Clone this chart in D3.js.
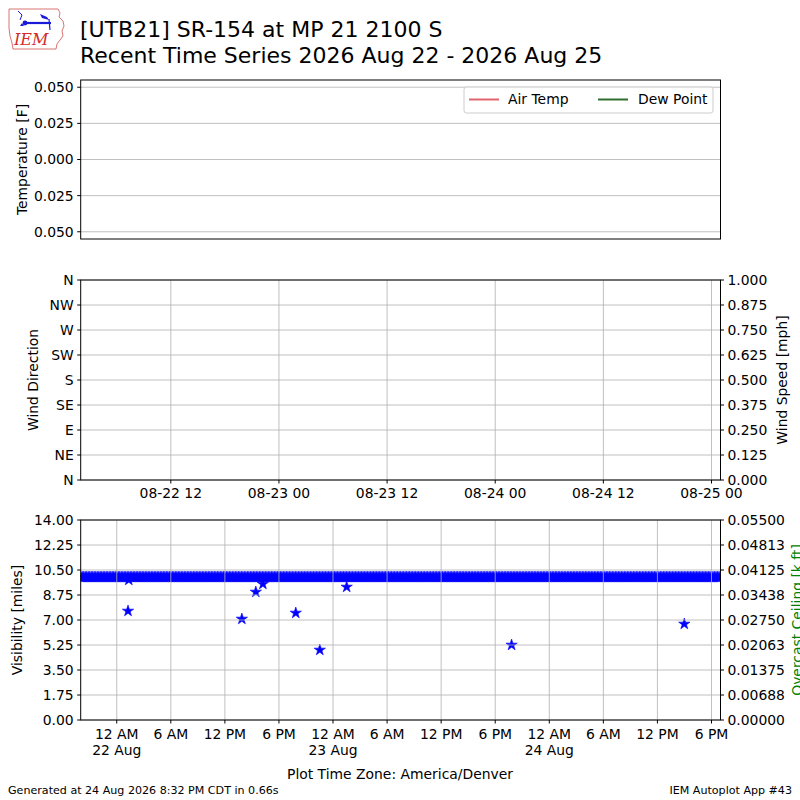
<!DOCTYPE html>
<html><head><meta charset="utf-8">
<script src="https://cdn.jsdelivr.net/npm/d3@7"></script>
<style>
body{margin:0;background:#fff}
text{font-family:"DejaVu Sans",sans-serif;fill:#000}
</style>
</head><body>
<svg id="c" width="800" height="800"></svg>
<script>
// ---------------- data ----------------
const titleLines = ["[UTB21] SR-154 at MP 21 2100 S", "Recent Time Series 2026 Aug 22 - 2026 Aug 25"];
const timeStartLocal = "2026-08-21 20:00";   // America/Denver wall time
const timeEndLocal   = "2026-08-24 19:00";
const utcOffsetHours = 6;                      // MDT = UTC-6

const tempTicks = [0.05, 0.025, 0, -0.025, -0.05];
const tempTickLabels = ["0.050", "0.025", "0.000", "0.025", "0.050"];
const tempDomain = [-0.055, 0.055];
const legendNames = ["Air Temp", "Dew Point"];
const legendColors = ["#e0646c", "#2e6e2e"];

const windDirTicks = [0, 45, 90, 135, 180, 225, 270, 315, 360];
const windDirLabels = ["N", "NE", "E", "SE", "S", "SW", "W", "NW", "N"];
const windSpeedTicks = [0, 0.125, 0.25, 0.375, 0.5, 0.625, 0.75, 0.875, 1.0];
const windSpeedLabels = ["0.000","0.125","0.250","0.375","0.500","0.625","0.750","0.875","1.000"];

const visTicks = [0, 1.75, 3.5, 5.25, 7, 8.75, 10.5, 12.25, 14];
const visTickLabels = ["0.00","1.75","3.50","5.25","7.00","8.75","10.50","12.25","14.00"];
const ceilTicks = [0, 0.006875, 0.01375, 0.020625, 0.0275, 0.034375, 0.04125, 0.048125, 0.055];
const ceilTickLabels = ["0.00000","0.00688","0.01375","0.02063","0.02750","0.03438","0.04125","0.04813","0.05500"];

// routine 10-mile visibility reports (constant run)
const visRoutine = {start: "2026-08-21 20:00", end: "2026-08-24 19:00", everyMinutes: 10, miles: 10};
// reduced-visibility reports
const visLowTimes  = ["2026-08-22 01:15","2026-08-22 01:20","2026-08-22 13:53","2026-08-22 15:26","2026-08-22 16:13","2026-08-22 19:52","2026-08-22 22:32","2026-08-23 01:31","2026-08-23 19:49","2026-08-24 14:59"];
const visLowMiles  = [7.63, 9.8, 7.07, 8.96, 9.52, 7.49, 4.9, 9.31, 5.25, 6.72];

// ---------------- drawing ----------------
const svg = d3.select("#c");
svg.append("rect").attr("width", 800).attr("height", 800).attr("fill", "#fff");
const parse = d3.utcParse("%Y-%m-%d %H:%M");
const L = 80.7, R = 720.5;
const FS = 13.9;
const gridColor = "#b0b0b0";

const xLocal = d3.scaleUtc().domain([parse(timeStartLocal), parse(timeEndLocal)]).range([L, R]);
const xUtc = d3.scaleUtc().domain([d3.utcHour.offset(parse(timeStartLocal), utcOffsetHours), d3.utcHour.offset(parse(timeEndLocal), utcOffsetHours)]).range([L, R]);

// logo
const logo = svg.append("g");
logo.append("path").attr("d", "M9,9 L58,9 L60,13 L59,17 L63,21 L64,26 L62,31 L63,36 L60,40 L57,44 L56,49 L13,49 L12,43 L10,36 L9,28 Z")
  .attr("fill", "none").attr("stroke", "#d05050").attr("stroke-width", 0.8);
logo.append("path").attr("d", "M26,23 L51,23").attr("stroke", "#1a1ad8").attr("stroke-width", 2.2);
logo.append("circle").attr("cx", 25).attr("cy", 23).attr("r", 2.4).attr("fill", "#1a1ad8");
logo.append("path").attr("d", "M40,14 L47,17 L49,20 L42,18 Z").attr("fill", "#1a1ad8");
logo.append("path").attr("d", "M49,19 L50,30").attr("stroke", "#1a1ad8").attr("stroke-width", 1.2);
logo.append("path").attr("d", "M18,11 L22,15 L20,20").attr("stroke", "#1a1ad8").attr("stroke-width", 1).attr("fill","none");
logo.append("path").attr("d", "M20,26 L22,23 L24,26 Z").attr("fill", "#1a1ad8");
logo.append("text").attr("x", 14).attr("y", 45).text("IEM")
  .style("font-family", "'DejaVu Serif',serif").style("font-style", "italic").style("font-size", "16px").style("fill", "#d42a2a");

// title
titleLines.forEach((t, i) => svg.append("text").attr("x", 80).attr("y", 37 + i * 26).style("font-size", "22px").text(t));

function spines(g, top, bottom) {
  g.append("rect").attr("x", L).attr("y", top).attr("width", R - L).attr("height", bottom - top)
    .attr("fill", "none").attr("stroke", "#000").attr("stroke-width", 1);
}
function leftAxis(g, y, ticks, labels) {
  ticks.forEach((t, i) => {
    g.append("line").attr("x1", L - 3.5).attr("x2", L).attr("y1", y(t)).attr("y2", y(t)).attr("stroke", "#000");
    g.append("text").attr("x", L - 7).attr("y", y(t)).attr("dy", "0.35em").attr("text-anchor", "end").style("font-size", FS + "px").text(labels[i]);
  });
}
function rightAxis(g, y, ticks, labels) {
  ticks.forEach((t, i) => {
    g.append("line").attr("x1", R).attr("x2", R + 3.5).attr("y1", y(t)).attr("y2", y(t)).attr("stroke", "#000");
    g.append("text").attr("x", R + 7).attr("y", y(t)).attr("dy", "0.35em").style("font-size", FS + "px").text(labels[i]);
  });
}
function hGrid(g, y, ticks) {
  ticks.forEach(t => g.append("line").attr("x1", L).attr("x2", R).attr("y1", y(t)).attr("y2", y(t)).attr("stroke", gridColor).attr("stroke-width", 0.8));
}
function vGrid(g, x, ticks, top, bottom) {
  ticks.forEach(t => g.append("line").attr("x1", x(t)).attr("x2", x(t)).attr("y1", top).attr("y2", bottom).attr("stroke", gridColor).attr("stroke-width", 0.8));
}
function yLabel(x, yc, text, color) {
  svg.append("text").attr("transform", `translate(${x},${yc}) rotate(-90)`).attr("text-anchor", "middle")
    .attr("dy", "0.35em").style("font-size", FS + "px").style("fill", color || "#000").text(text);
}

// ---- panel 1: temperature ----
const p1Top = 80, p1Bot = 239;
const yTemp = d3.scaleLinear().domain(tempDomain).range([p1Bot, p1Top]);
const g1 = svg.append("g");
hGrid(g1, yTemp, tempTicks);
leftAxis(g1, yTemp, tempTicks, tempTickLabels);
spines(g1, p1Top, p1Bot);
yLabel(22, (p1Top + p1Bot) / 2, "Temperature [F]");
// legend
const lg = g1.append("g");
lg.append("rect").attr("x", 464).attr("y", 87).attr("width", 249).attr("height", 26).attr("rx", 2.5)
  .attr("fill", "#fff").attr("fill-opacity", 0.8).attr("stroke", "#cccccc");
[[469, 508], [598, 638]].forEach((p, i) => {
  lg.append("line").attr("x1", p[0]).attr("x2", p[0] + 30).attr("y1", 99.5).attr("y2", 99.5).attr("stroke", legendColors[i]).attr("stroke-width", 2);
  lg.append("text").attr("x", p[1]).attr("y", 99.5).attr("dy", "0.35em").style("font-size", FS + "px").text(legendNames[i]);
});

// ---- panel 2: wind ----
const p2Top = 280, p2Bot = 480;
const yDir = d3.scaleLinear().domain([0, 360]).range([p2Bot, p2Top]);
const ySpd = d3.scaleLinear().domain([0, 1]).range([p2Bot, p2Top]);
const g2 = svg.append("g");
const utcTicks = xUtc.ticks(d3.utcHour.every(12));
hGrid(g2, yDir, windDirTicks);
vGrid(g2, xUtc, utcTicks, p2Top, p2Bot);
leftAxis(g2, yDir, windDirTicks, windDirLabels);
rightAxis(g2, ySpd, windSpeedTicks, windSpeedLabels);
const fmtUtc = d3.utcFormat("%m-%d %H");
utcTicks.forEach(t => {
  g2.append("line").attr("x1", xUtc(t)).attr("x2", xUtc(t)).attr("y1", p2Bot).attr("y2", p2Bot + 3.5).attr("stroke", "#000");
  g2.append("text").attr("x", xUtc(t)).attr("y", p2Bot + 7).attr("dy", "0.76em").attr("text-anchor", "middle").style("font-size", FS + "px").text(fmtUtc(t));
});
spines(g2, p2Top, p2Bot);
yLabel(33, (p2Top + p2Bot) / 2, "Wind Direction");
yLabel(782, (p2Top + p2Bot) / 2, "Wind Speed [mph]");

// ---- panel 3: visibility ----
const p3Top = 520, p3Bot = 720;
const yVis = d3.scaleLinear().domain([0, 14]).range([p3Bot, p3Top]);
const yCeil = d3.scaleLinear().domain([0, 0.055]).range([p3Bot, p3Top]);
const g3 = svg.append("g");
svg.append("defs").append("clipPath").attr("id", "clip3").append("rect")
  .attr("x", L).attr("y", p3Top).attr("width", R - L).attr("height", p3Bot - p3Top);
const star = d3.symbol(d3.symbolStar, 40)();
const routineTimes = d3.utcMinute.every(visRoutine.everyMinutes).range(parse(visRoutine.start), d3.utcMinute.offset(parse(visRoutine.end), 1));
const visData = routineTimes.map(t => ({t, v: visRoutine.miles}))
  .concat(visLowTimes.map((s, i) => ({t: parse(s), v: visLowMiles[i]})));
g3.append("g").attr("clip-path", "url(#clip3)").selectAll("path").data(visData).join("path")
  .attr("d", star).attr("transform", d => `translate(${xLocal(d.t)},${yVis(d.v)})`)
  .attr("fill", "#0000ff").attr("stroke", "#0000ff").attr("stroke-width", 0.6);
const localTicks = xLocal.ticks(d3.utcHour.every(6));
hGrid(g3, yVis, visTicks);
vGrid(g3, xLocal, localTicks, p3Top, p3Bot);
leftAxis(g3, yVis, visTicks, visTickLabels);
rightAxis(g3, yCeil, ceilTicks, ceilTickLabels);
const fmtH = d3.utcFormat("%-I %p"), fmtD = d3.utcFormat("%d %b");
localTicks.forEach(t => {
  g3.append("line").attr("x1", xLocal(t)).attr("x2", xLocal(t)).attr("y1", p3Bot).attr("y2", p3Bot + 3.5).attr("stroke", "#000");
  const tx = g3.append("text").attr("x", xLocal(t)).attr("y", p3Bot + 8).attr("text-anchor", "middle").style("font-size", FS + "px");
  tx.append("tspan").attr("x", xLocal(t)).attr("dy", "0.76em").text(fmtH(t));
  if (t.getUTCHours() === 0) tx.append("tspan").attr("x", xLocal(t)).attr("dy", "1.2em").text(fmtD(t));
});
spines(g3, p3Top, p3Bot);
yLabel(17, (p3Top + p3Bot) / 2, "Visibility [miles]");
yLabel(797, (p3Top + p3Bot) / 2, "Overcast Ceiling [k ft]", "#008000");

// footer
svg.append("text").attr("x", 400).attr("y", 774).attr("dy", "0.35em").attr("text-anchor", "middle").style("font-size", FS + "px").text("Plot Time Zone: America/Denver");
svg.append("text").attr("x", 8).attr("y", 790).attr("dy", "0.35em").style("font-size", "11.1px").text("Generated at 24 Aug 2026 8:32 PM CDT in 0.66s");
svg.append("text").attr("x", 792).attr("y", 790).attr("dy", "0.35em").attr("text-anchor", "end").style("font-size", "11.1px").text("IEM Autoplot App #43");
</script>
</body></html>
